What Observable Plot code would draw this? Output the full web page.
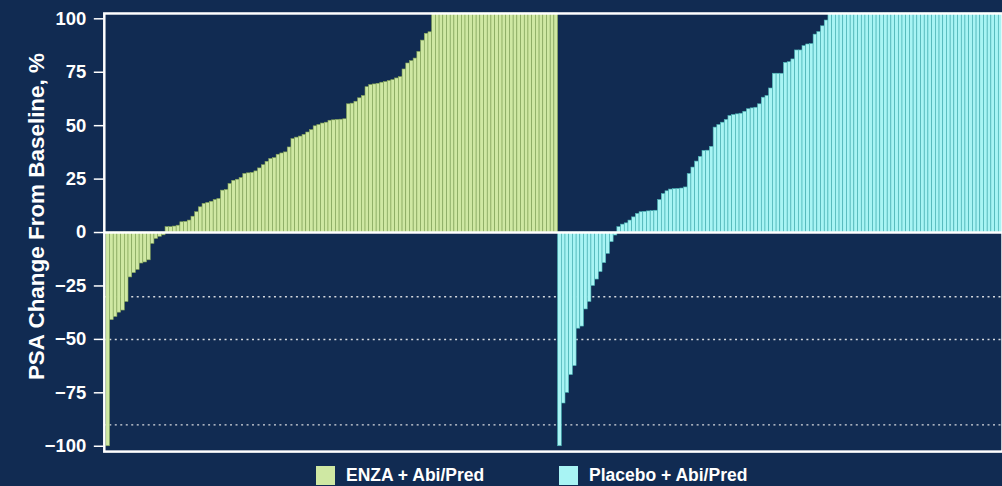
<!DOCTYPE html>
<html><head><meta charset="utf-8">
<script src="https://cdn.jsdelivr.net/npm/d3@7"></script>
<script src="https://cdn.jsdelivr.net/npm/@observablehq/plot@0.6"></script>
<style>
html,body{margin:0;padding:0;background:#112b52;overflow:hidden;width:1002px;height:486px;}
#chart{position:relative;width:1002px;height:486px;overflow:hidden;}
.legend{position:absolute;top:0;left:0;font:bold 17.5px "Liberation Sans",Arial,sans-serif;color:#fff;}
.item{position:absolute;top:466px;height:19px;display:flex;align-items:center;white-space:nowrap;}
.sw{width:19px;height:19px;margin-right:11px;}
</style></head>
<body><div id="chart"></div>
<script>
const groups = ["ENZA + Abi/Pred", "Placebo + Abi/Pred"];
const fillColors = ["#cfe8a3", "#a8f4f4"];
const edgeColors = ["#84a558", "#46b2b4"];
const yTicks = [-100, -75, -50, -25, 0, 25, 50, 75, 100];
const thresholds = [-30, -50, -90];
const yLabel = "PSA Change From Baseline, %";

// ENZA + Abi/Pred, sorted; values above 100 are shown capped at the top (102.5)
const enzaValues = [
  -100, -41, -39.5, -37.5, -36.5, -32.5, -21, -19, -17.5, -14.5,
  -14, -13, -5.3, -3, -2, -1.3,
  2.5, 2.5, 2.8, 3.2, 4.8, 5, 5.6, 7.4, 9.5, 11.8,
  13.4, 13.8, 14.4, 15.2, 15.7, 19.6, 19.9, 22.7, 24.2, 24.7,
  25.5, 27.4, 27.7, 27.9, 28.6, 30, 31.5, 33.1, 34.4, 34.8,
  36.4, 37, 37.5, 39.8, 43.7, 44.4, 44.9, 45.7, 46.8, 47.9,
  49.7, 50.3, 51, 51.4, 52.3, 52.5, 52.7, 52.8, 53, 60,
  60.3, 61.2, 62.8, 63.9, 68, 69, 69.3, 69.6, 70.1, 70.4,
  70.9, 71.3, 72.1, 72.7, 76.3, 79.1, 80.2, 81.4, 84.5, 89.8,
  93, 93.7,
  102.5, 102.5, 102.5, 102.5, 102.5, 102.5, 102.5, 102.5, 102.5, 102.5,
  102.5, 102.5, 102.5, 102.5, 102.5, 102.5, 102.5, 102.5, 102.5, 102.5,
  102.5, 102.5, 102.5, 102.5, 102.5, 102.5, 102.5, 102.5, 102.5, 102.5,
  102.5, 102.5, 102.5, 102.5
];

// Placebo + Abi/Pred, sorted; values above 100 capped at the top
const placeboValues = [
  -100, -80, -75, -66.7, -62.5, -45, -44, -36, -32.5, -25,
  -22, -18.5, -14.3, -10, -4.5, -1.4,
  2.5, 3.7, 4.3, 5.6, 7.1, 8.7, 9.5, 9.7, 9.9, 10,
  10.2, 15.2, 18, 19.3, 20.1, 20.3, 20.4, 20.6, 21.1, 27.4,
  30.4, 33.2, 35.4, 38.2, 38.3, 40.1, 49.1, 50.3, 51.4, 52.7,
  54.5, 55, 55.3, 55.6, 56.5, 57.7, 58.1, 58.4, 60, 63.1,
  63.9, 67.4, 74.3, 74.3, 74.3, 79.4, 79.7, 81, 85.2, 85.2,
  87.2, 88, 88.2, 92.6, 93.8, 96.5, 99.2,
  102.5, 102.5, 102.5, 102.5, 102.5, 102.5, 102.5, 102.5, 102.5, 102.5,
  102.5, 102.5, 102.5, 102.5, 102.5, 102.5, 102.5, 102.5, 102.5, 102.5,
  102.5, 102.5, 102.5, 102.5, 102.5, 102.5, 102.5, 102.5, 102.5, 102.5,
  102.5, 102.5, 102.5, 102.5, 102.5, 102.5, 102.5, 102.5, 102.5, 102.5,
  102.5, 102.5, 102.5, 102.5, 102.5, 102.5, 102.5
];

const series = [enzaValues, placeboValues];
const rows = [];
series.forEach((vals, g) => {
  const offset = g === 0 ? 0 : enzaValues.length;
  vals.forEach((v, k) => rows.push({i: offset + k, v, g}));
});
const n = rows.length;

const barMarks = groups.map((name, g) =>
  Plot.barY(rows.filter(d => d.g === g), {
    x: "i", y: "v",
    fill: fillColors[g], stroke: edgeColors[g], strokeWidth: 0.6
  })
);

const chart = Plot.plot({
  width: 1004,
  height: 458,
  marginTop: 13,
  marginBottom: 6,
  marginLeft: 104,
  marginRight: 0,
  style: {background: "#112b52", color: "white", fontFamily: "'Liberation Sans', Arial, sans-serif"},
  x: {type: "band", domain: d3.range(n), padding: 0, insetLeft: 2, axis: null},
  y: {domain: [-102.5, 102.5], label: null},
  marks: [
    Plot.ruleY(thresholds, {stroke: "#d6d9de", strokeWidth: 1.5, strokeDasharray: "2,3.5"}),
    ...barMarks,
    Plot.ruleY([0], {stroke: "white", strokeWidth: 2.5}),
    Plot.frame({stroke: "white", strokeWidth: 2.5}),
    Plot.axisY(yTicks, {tickSize: 10, tickPadding: 8, stroke: "white", strokeWidth: 1.5, fill: "white", fontSize: 18.5, fontWeight: "bold", label: null}),
    Plot.text([yLabel], {text: d => d, frameAnchor: "left", dx: -68, dy: -16, rotate: -90, fill: "white", fontSize: 22.5, fontWeight: "bold", textAnchor: "middle"})
  ]
});

const host = document.getElementById("chart");
host.appendChild(chart);

const legend = document.createElement("div");
legend.className = "legend";
const legendLeft = [316, 559];
groups.forEach((name, g) => {
  const item = document.createElement("div");
  item.className = "item";
  item.style.left = legendLeft[g] + "px";
  const sw = document.createElement("span");
  sw.className = "sw";
  sw.style.background = fillColors[g];
  const t = document.createElement("span");
  t.textContent = name;
  item.appendChild(sw);
  item.appendChild(t);
  legend.appendChild(item);
});
host.appendChild(legend);
</script>
</body></html>
